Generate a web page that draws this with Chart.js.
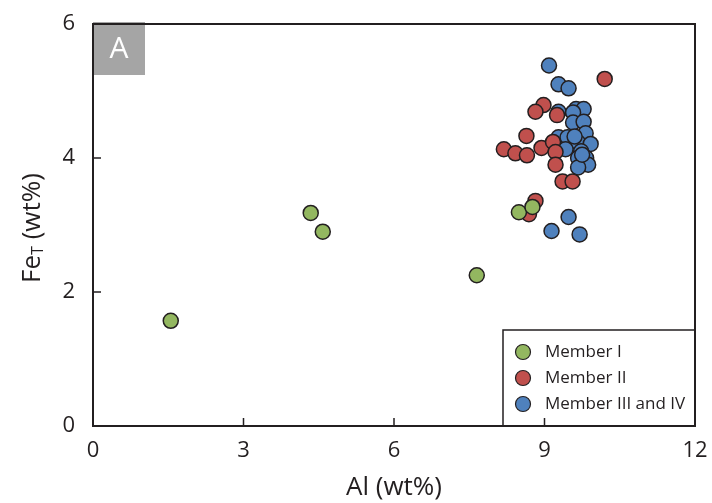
<!DOCTYPE html>
<html>
<head>
<meta charset="utf-8">
<script src="https://cdn.jsdelivr.net/npm/chart.js@4"></script>
<style>
  html, body { margin: 0; padding: 0; background: #fff; }
  #wrap { width: 712px; height: 503px; }
</style>
</head>
<body>
<div id="wrap"><canvas id="chart" width="712" height="503"></canvas></div>
<script>
// Al (wt%) vs Fe_T (wt%)
const member1Al = [1.55, 4.34, 4.58, 7.65, 8.49, 8.76];
const member1Fe = [1.57, 3.18, 2.90, 2.25, 3.19, 3.27];

const member2Al = [10.2, 8.98, 8.82, 9.25, 8.64, 8.19, 8.42, 8.65, 8.94, 9.17, 9.22, 9.22, 9.36, 9.56, 8.82, 8.69];
const member2Fe = [5.18, 4.79, 4.69, 4.64, 4.33, 4.13, 4.07, 4.04, 4.15, 4.24, 4.09, 3.90, 3.65, 3.65, 3.36, 3.16];

const member3Al = [9.09, 9.28, 9.48, 9.70, 9.14, 9.48, 9.28, 9.63, 9.78, 9.57, 9.57, 9.78, 9.82, 9.67,
  9.92, 9.28, 9.46, 9.42, 9.73, 9.67, 9.83, 9.87, 9.67, 9.60, 9.75];
const member3Fe = [5.38, 5.10, 5.04, 2.86, 2.91, 3.12, 4.69, 4.73, 4.73, 4.68, 4.53, 4.54, 4.37, 4.23,
  4.21, 4.31, 4.31, 4.13, 4.10, 4.00, 4.00, 3.90, 3.86, 4.32, 4.05];

const seriesNames = ['Member I', 'Member II', 'Member III and IV'];
const seriesColors = ['#93b760', '#c0504d', '#4f81bd'];
const xTicks = [0, 3, 6, 9, 12];
const yTicks = [0, 2, 4, 6];

const toPoints = (xs, ys) => xs.map((x, i) => ({ x: x, y: ys[i] }));

const FONT = '"Open Sans", "Noto Sans", sans-serif';
const INK = '#231f20';

// frame, inward ticks, "A" tag, legend box and the Fe_T title
const decorations = {
  id: 'decorations',
  beforeDatasetsDraw(chart) {
    const ctx = chart.ctx;
    const a = chart.chartArea;
    ctx.save();
    // panel tag
    ctx.fillStyle = '#a5a5a5';
    ctx.fillRect(a.left, a.top - 2, 52, 53);
    ctx.fillStyle = '#ffffff';
    ctx.font = '30px ' + FONT;
    ctx.textAlign = 'center';
    ctx.textBaseline = 'middle';
    ctx.fillText('A', a.left + 26, a.top + 25);
    ctx.restore();
  },
  afterDatasetsDraw(chart) {
    const ctx = chart.ctx;
    const a = chart.chartArea;
    const xs = chart.scales.x;
    const ys = chart.scales.y;
    ctx.save();

    // legend box
    const lx = 503, ly = 330;
    ctx.fillStyle = '#ffffff';
    ctx.fillRect(lx, ly, a.right - lx, a.bottom - ly);
    ctx.strokeStyle = INK;
    ctx.lineWidth = 1.5;
    ctx.strokeRect(lx, ly, a.right - lx, a.bottom - ly);
    ctx.font = '17px ' + FONT;
    ctx.textAlign = 'left';
    ctx.textBaseline = 'middle';
    seriesNames.forEach((name, i) => {
      const cy = ly + 22 + i * 26;
      ctx.beginPath();
      ctx.arc(lx + 20, cy, 7.5, 0, Math.PI * 2);
      ctx.fillStyle = seriesColors[i];
      ctx.fill();
      ctx.lineWidth = 1.2;
      ctx.strokeStyle = INK;
      ctx.stroke();
      ctx.fillStyle = INK;
      ctx.fillText(name, lx + 42, cy);
    });

    // ticks pointing inward
    ctx.strokeStyle = INK;
    ctx.lineWidth = 1.5;
    ctx.beginPath();
    xTicks.slice(1, -1).forEach(v => {
      const px = xs.getPixelForValue(v);
      ctx.moveTo(px, a.bottom);
      ctx.lineTo(px, a.bottom - 8);
    });
    yTicks.slice(1, -1).forEach(v => {
      const py = ys.getPixelForValue(v);
      ctx.moveTo(a.left, py);
      ctx.lineTo(a.left + 8, py);
    });
    ctx.stroke();

    // frame
    ctx.lineWidth = 2;
    ctx.strokeRect(a.left, a.top, a.right - a.left, a.bottom - a.top);

    // y title with subscript
    ctx.translate(33, 228);
    ctx.rotate(-Math.PI / 2);
    ctx.fillStyle = INK;
    ctx.textBaseline = 'middle';
    ctx.textAlign = 'left';
    const big = '26px ' + FONT;
    const small = '16px ' + FONT;
    ctx.font = big;
    const wFe = ctx.measureText('Fe').width;
    const wRest = ctx.measureText(' (wt%)').width;
    ctx.font = small;
    const wT = ctx.measureText('T').width;
    let x0 = -(wFe + wT + wRest) / 2;
    ctx.font = big;
    ctx.fillText('Fe', x0, 0);
    ctx.font = small;
    ctx.fillText('T', x0 + wFe, 5);
    ctx.font = big;
    ctx.fillText(' (wt%)', x0 + wFe + wT, 0);
    ctx.restore();
  }
};

const pointStyle = (i) => ({
  backgroundColor: seriesColors[i],
  borderColor: INK,
  borderWidth: 1.5,
  pointRadius: 7.5,
  pointHoverRadius: 7.5
});

new Chart(document.getElementById('chart'), {
  type: 'scatter',
  data: {
    datasets: [
      Object.assign({ label: seriesNames[0], data: toPoints(member1Al, member1Fe) }, pointStyle(0)),
      Object.assign({ label: seriesNames[1], data: toPoints(member2Al, member2Fe) }, pointStyle(1)),
      Object.assign({ label: seriesNames[2], data: toPoints(member3Al, member3Fe) }, pointStyle(2))
    ]
  },
  options: {
    responsive: false,
    animation: false,
    layout: { padding: { top: 24, right: 17, left: 0, bottom: 0 } },
    plugins: {
      legend: { display: false },
      tooltip: { enabled: false }
    },
    scales: {
      x: {
        type: 'linear',
        min: 0,
        max: 12,
        afterBuildTicks: (s) => { s.ticks = xTicks.map(v => ({ value: v })); },
        afterFit: (s) => { s.height = 77; },
        grid: { display: false },
        border: { display: false },
        ticks: { color: INK, font: { family: FONT, size: 22 }, padding: 4, maxRotation: 0 },
        title: {
          display: true,
          text: 'Al (wt%)',
          color: INK,
          font: { family: FONT, size: 26 },
          padding: { top: 0, bottom: 0 }
        }
      },
      y: {
        type: 'linear',
        min: 0,
        max: 6,
        afterBuildTicks: (s) => { s.ticks = yTicks.map(v => ({ value: v })); },
        afterFit: (s) => { s.width = 93; },
        grid: { display: false },
        border: { display: false },
        ticks: { color: INK, font: { family: FONT, size: 22 }, padding: 10 }
      }
    }
  },
  plugins: [decorations]
});
</script>
</body>
</html>
